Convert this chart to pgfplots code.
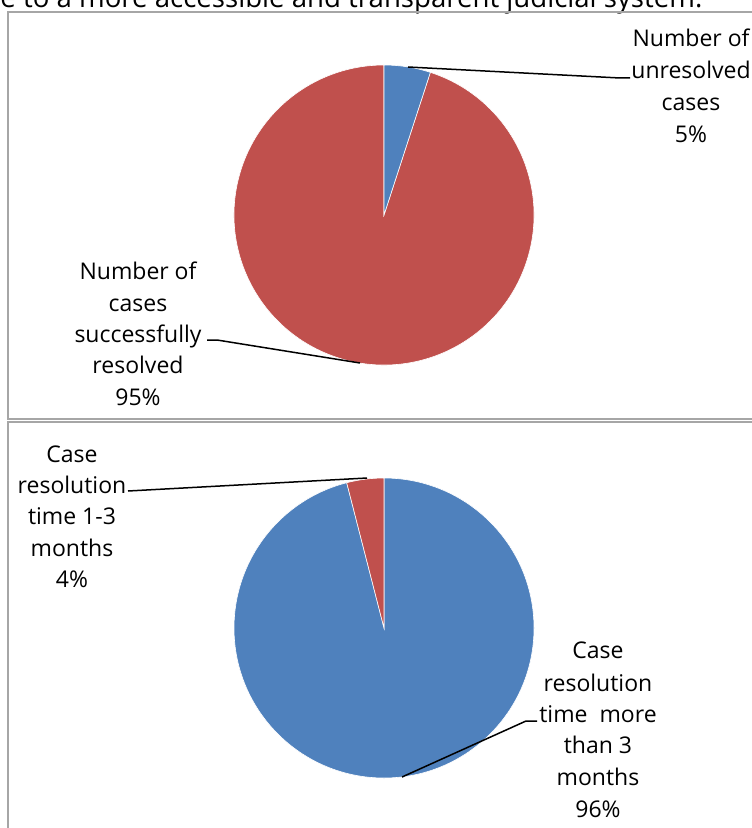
\documentclass[border=0pt]{standalone}
\usepackage{pgfplots}
\usepackage{pgfplotstable}
\pgfplotsset{compat=1.18}
\usepackage{fontspec}
\setmainfont{Open Sans}

\definecolor{pieblue}{HTML}{4F81BD}
\definecolor{piered}{HTML}{C0504D}
\definecolor{framegray}{HTML}{A6A6A6}

\tikzset{lbl/.style={anchor=base, inner sep=0pt, font=\fontsize{11.5}{16}\selectfont}}

% top chart: share of cases
\pgfplotstableread{
part value
unresolved 5
resolved 95
}\casetable

% bottom chart: resolution time
\pgfplotstableread{
part value
morethan3 96
onetothree 4
}\timetable

\begin{document}
\begin{tikzpicture}
\pgfplotstablegetelem{0}{value}\of\casetable
\pgfmathsetmacro{\aEnd}{90-3.6*\pgfplotsretval}
\pgfplotstablegetelem{0}{value}\of\timetable
\pgfmathsetmacro{\bEnd}{90-3.6*\pgfplotsretval}

\useasboundingbox (0,0) rectangle (375.5pt,414pt);
\begin{axis}[
    at={(0,0)}, anchor=south west,
    scale only axis,
    width=375.5pt, height=414pt,
    xmin=0, xmax=751, ymin=0, ymax=828,
    y dir=reverse,
    hide axis,
    clip=false,
]
% page text cut off at the top
\node[anchor=base west, inner sep=0pt, font=\fontsize{13.8}{16}\selectfont] at (axis cs:0,8) {e to a more accessible and transparent judicial system.};

% frames
\draw[framegray, line width=1pt] (axis cs:8,12) rectangle (axis cs:790,419);
\draw[framegray, line width=1pt] (axis cs:8,422) rectangle (axis cs:790,860);

% top pie
\fill[piered, draw=white, line width=0.3pt] (axis cs:384,215) -- ++(\aEnd:75pt) arc[start angle=\aEnd, end angle=-270, radius=75pt] -- cycle;
\fill[pieblue, draw=white, line width=0.3pt] (axis cs:384,215) -- ++(90:75pt) arc[start angle=90, end angle=\aEnd, radius=75pt] -- cycle;

% bottom pie
\fill[pieblue, draw=white, line width=0.3pt] (axis cs:384,628) -- ++(90:75pt) arc[start angle=90, end angle=\bEnd, radius=75pt] -- cycle;
\fill[piered, draw=white, line width=0.3pt] (axis cs:384,628) -- ++(\bEnd:75pt) arc[start angle=\bEnd, end angle=-270, radius=75pt] -- cycle;

% leader lines
\draw[black, line width=0.75pt] (axis cs:408,67) -- (axis cs:620,78) -- (axis cs:630,78);
\draw[black, line width=0.75pt] (axis cs:207,340) -- (axis cs:217,340) -- (axis cs:360,363);
\draw[black, line width=0.75pt] (axis cs:128,491) -- (axis cs:367,478);
\draw[black, line width=0.75pt] (axis cs:537,721) -- (axis cs:526,721) -- (axis cs:402,777);

% labels, top chart
\node[lbl] at (axis cs:691,47) {Number of};
\node[lbl] at (axis cs:691,79) {unresolved};
\node[lbl] at (axis cs:691,111) {cases};
\node[lbl] at (axis cs:691,143) {5\%};

\node[lbl] at (axis cs:138,279) {Number of};
\node[lbl] at (axis cs:138,311) {cases};
\node[lbl] at (axis cs:138,342) {successfully};
\node[lbl] at (axis cs:138,373) {resolved};
\node[lbl] at (axis cs:138,405) {95\%};

% labels, bottom chart
\node[lbl] at (axis cs:72,462) {Case};
\node[lbl] at (axis cs:72,493) {resolution};
\node[lbl] at (axis cs:72,524) {time 1-3};
\node[lbl] at (axis cs:72,556) {months};
\node[lbl] at (axis cs:72,587) {4\%};

\node[lbl] at (axis cs:598,658) {Case};
\node[lbl] at (axis cs:598,691) {resolution};
\node[lbl] at (axis cs:598,722) {time\ \ more};
\node[lbl] at (axis cs:598,753) {than 3};
\node[lbl] at (axis cs:598,785) {months};
\node[lbl] at (axis cs:598,817) {96\%};
\end{axis}
\end{tikzpicture}
\end{document}
